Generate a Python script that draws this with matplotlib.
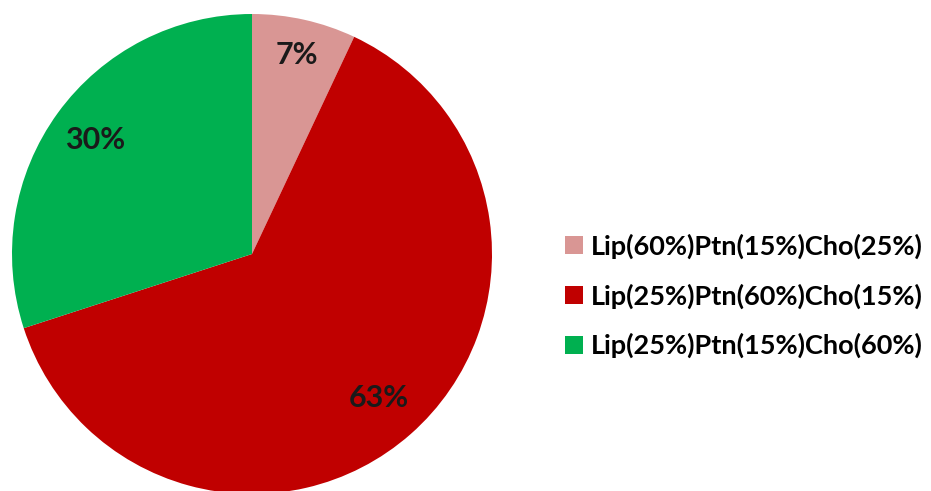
import numpy as np
import matplotlib.pyplot as plt

labels = ['Lip(60%)Ptn(15%)Cho(25%)', 'Lip(25%)Ptn(60%)Cho(15%)', 'Lip(25%)Ptn(15%)Cho(60%)']
shares = [7, 63, 30]
colors = ['#D99694', '#C00000', '#00B050']
label_dist = [0.85, 0.80, 0.81]

fig = plt.figure(figsize=(9.31, 4.91), dpi=100)
ax = fig.add_axes([0, 0, 1, 1])

cx, cy, r = 252, 237, 240
wedges, texts, pcts = ax.pie(shares, colors=colors, startangle=90, counterclock=False,
                             center=(cx, cy), radius=r, frame=True,
                             autopct='%d%%', pctdistance=0.82,
                             textprops=dict(fontsize=22, fontweight='bold', color='#1a1a1a',
                                            family='Lato'))
# push each percentage label out along its wedge's middle angle
for w, t, d in zip(wedges, pcts, label_dist):
    mid = np.deg2rad((w.theta1 + w.theta2) / 2)
    t.set_position((cx + r * d * np.cos(mid), cy + r * d * np.sin(mid)))

ax.set_xlim(0, 931)
ax.set_ylim(0, 491)
ax.set_aspect('equal')
ax.axis('off')

fig.legend(wedges, labels, loc='center left', bbox_to_anchor=(541 / 931, 1 - 296 / 491),
           frameon=False, prop=dict(family='Lato', weight='bold', size=19.5),
           handlelength=0.65, handleheight=0.65, handletextpad=0.3, labelspacing=0.9)

fig.savefig('out.png', dpi=100)
